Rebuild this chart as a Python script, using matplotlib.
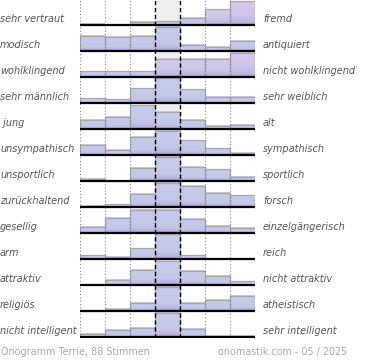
import numpy as np
import matplotlib
matplotlib.use("Agg")
import matplotlib.pyplot as plt
from matplotlib.colors import LinearSegmentedColormap

# Gegensatzpaare (links / rechts)
left_labels = ["sehr vertraut", "modisch", "wohlklingend", "sehr männlich", " jung",
               "unsympathisch", "unsportlich", "zurückhaltend", "gesellig", "arm",
               "attraktiv", "religiös", "nicht intelligent"]
right_labels = ["fremd", "antiquiert", "nicht wohlklingend", "sehr weiblich", "alt",
                "sympathisch", "sportlich", "forsch", "einzelgängerisch", "reich",
                "nicht attraktiv", "atheistisch", "sehr intelligent"]

# Balkenhöhen je Zeile (7 Stufen)
r_vertraut = [1.3, 0, 3.3, 4, 7.7, 16, 24]
r_modisch = [15.7, 14.3, 15.7, 24.5, 6.7, 4.3, 10.3]
r_wohlklingend = [6, 6, 6, 18.7, 18.7, 18.7, 24.3]
r_maennlich = [5, 4, 15, 25, 14, 6.7, 6.7]
r_jung = [9.7, 12.7, 24, 17.3, 9.7, 3.3, 4.7]
r_unsympathisch = [10.3, 5.3, 18.3, 24.5, 15, 7, 2.3]
r_unsportlich = [2.3, 0.3, 13.3, 24.5, 14.3, 12, 4.3]
r_zurueckhaltend = [1.3, 3, 13.3, 24.5, 21.3, 14.3, 12]
r_gesellig = [6.7, 15.7, 23.7, 23.7, 14.7, 7.7, 5.7]
r_arm = [4, 2, 11, 25, 4, 0, 0]
r_attraktiv = [0, 5.3, 15.3, 24, 14.3, 9.3, 4]
r_religioes = [0.5, 2.3, 8.7, 24, 8.7, 11.3, 15.3]
r_intelligent = [3.7, 7.7, 9.7, 24.5, 8.7, 1.3, 1.3]

rows = [r_vertraut, r_modisch, r_wohlklingend, r_maennlich, r_jung, r_unsympathisch,
        r_unsportlich, r_zurueckhaltend, r_gesellig, r_arm, r_attraktiv, r_religioes,
        r_intelligent]

# rosa getönte Balken (Zeile, Spalte)
pink = {(0, 5), (0, 6), (2, 3), (2, 4), (2, 5), (2, 6)}

cm_blue = LinearSegmentedColormap.from_list(
    "b", [(0, "#a293c6"), (0.12, "#b9b7e0"), (0.3, "#c3c8e8"), (1, "#c6cceb")])
cm_pink = LinearSegmentedColormap.from_list(
    "p", [(0, "#a293c6"), (0.12, "#bdb8e0"), (0.4, "#cac6e8"), (1, "#dcc8e8")])

fig = plt.figure(figsize=(3.7, 3.6), dpi=100)
ax = fig.add_axes([80 / 370, (360 - 338) / 360, 175 / 370, 338 / 360])
n = len(rows)
ax.set_xlim(0, 7)
ax.set_ylim(0, n)
ax.axis("off")

unit = 26.0
ax.axvspan(3, 4, color="#eeeeee", zorder=0)

grad = np.linspace(0, 1, 64).reshape(-1, 1)
for i, vals in enumerate(rows):
    base = n - 1 - i + 0.02
    for j, v in enumerate(vals):
        h = v / unit
        if h <= 0:
            continue
        cmap = cm_pink if (i, j) in pink else cm_blue
        ax.imshow(grad, cmap=cmap, origin="lower", aspect="auto",
                  extent=(j, j + 1, base, base + h), zorder=1, interpolation="bilinear")
        ax.plot([j, j, j + 1, j + 1], [base, base + h, base + h, base],
                color="#a8a8a8", lw=0.9, zorder=2)
    ax.plot([0, 7], [base, base], color="black", lw=1.6, zorder=4, solid_capstyle="butt")
    ax.text(-80 / 175 * 7, base + 0.24, left_labels[i], ha="left", va="center",
            fontsize=7, style="italic", color="#555555", transform=ax.transData)
    ax.text(7 + 8 / 175 * 7, base + 0.24, right_labels[i], ha="left", va="center",
            fontsize=7, style="italic", color="#555555")

for x in [0, 1, 2, 5, 6, 7]:
    ax.axvline(x, color="#888888", lw=0.8, ls=(0, (1, 2)), zorder=3)
for x in [3, 4]:
    ax.axvline(x, color="black", lw=1.0, ls=(0, (3, 2)), zorder=3)

fig.text(1 / 370, 1 - 352 / 360, "Onogramm Terrie, 88 Stimmen", ha="left", va="center",
         fontsize=6.9, color="#aaaaaa")
fig.text(347 / 370, 1 - 352 / 360, "onomastik.com - 05 / 2025", ha="right", va="center",
         fontsize=6.9, color="#aaaaaa")

fig.savefig("out.png", dpi=100)
